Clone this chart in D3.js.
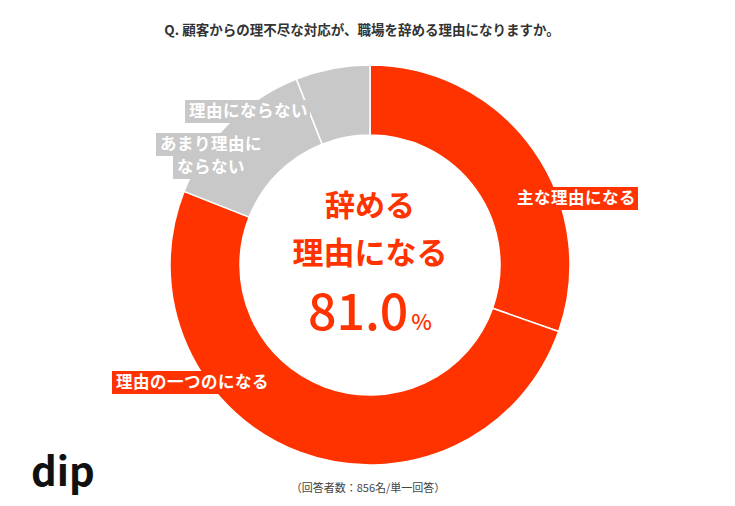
<!DOCTYPE html>
<html>
<head>
<meta charset="utf-8">
<script src="https://cdn.jsdelivr.net/npm/d3@7"></script>
<style>
  body { margin: 0; background: #fff; }
  text { font-family: "Noto Sans CJK JP", "Noto Sans", sans-serif; }
</style>
</head>
<body>
<div id="chart"></div>
<script>
// Données du graphique
const categories = ["主な理由になる", "理由の一つのになる", "あまり理由にならない", "理由にならない"];
const values = [30.4, 50.6, 13.0, 6.0];
const totalLabel = "81.0";
const title = "Q. 顧客からの理不尽な対応が、職場を辞める理由になりますか。";
const note = "（回答者数：856名/単一回答）";

const width = 735, height = 506;
const red = "#ff3300", gray = "#c8c8c8";

const svg = d3.select("#chart").append("svg")
    .attr("width", width)
    .attr("height", height);

// Titre
svg.append("text")
    .attr("x", 362)
    .attr("y", 35)
    .attr("text-anchor", "middle")
    .attr("font-size", "13.5px")
    .attr("font-weight", 700)
    .attr("fill", "#333")
    .text(title);

// Anneau
const cx = 370, cy = 265;
const color = d3.scaleOrdinal().domain(categories).range([red, red, gray, gray]);
const pie = d3.pie().sort(null).value(d => d.value);
const arc = d3.arc().innerRadius(130).outerRadius(200);

const data = categories.map((c, i) => ({ name: c, value: values[i] }));
const ring = svg.append("g").attr("transform", `translate(${cx},${cy})`);
ring.selectAll("path")
    .data(pie(data))
    .join("path")
    .attr("d", arc)
    .attr("fill", d => color(d.data.name))
    .attr("stroke", "#fff")
    .attr("stroke-width", 1.5);

// Étiquettes des segments (lignes, position du coin gauche, ligne de base)
const labels = [
    { name: categories[0], lines: ["主な理由になる"], x: 517, y: 204 },
    { name: categories[1], lines: ["理由の一つのになる"], x: 116, y: 388 },
    { name: categories[2], lines: ["あまり理由に", "ならない"], x: 160, y: 150, align: "middle" },
    { name: categories[3], lines: ["理由にならない"], x: 189, y: 117 }
];

labels.forEach(l => {
    const g = svg.append("g");
    let firstW = 0;
    l.lines.forEach((line, j) => {
        const rect = g.append("rect");
        const t = g.append("text")
            .attr("y", l.y + j * 23)
            .attr("font-size", "16.5px")
            .attr("font-weight", 700)
            .attr("letter-spacing", "0.5px")
            .attr("fill", "#fff")
            .text(line);
        const w = t.node().getComputedTextLength();
        if (j === 0) firstW = w;
        const x = (l.align === "middle" && j > 0) ? l.x + (firstW - w) / 2 : l.x;
        t.attr("x", x);
        rect.attr("x", x - 4)
            .attr("y", l.y + j * 23 - 17)
            .attr("width", w + 6)
            .attr("height", 23)
            .attr("fill", color(l.name));
    });
});

// Texte central
const center = svg.append("g").attr("transform", `translate(${cx},0)`);
center.append("text")
    .attr("y", 216)
    .attr("text-anchor", "middle")
    .attr("font-size", "30px")
    .attr("font-weight", 700)
    .attr("fill", red)
    .text("辞める");
center.append("text")
    .attr("y", 264)
    .attr("text-anchor", "middle")
    .attr("font-size", "31px")
    .attr("font-weight", 700)
    .attr("fill", red)
    .text("理由になる");
const pct = center.append("text")
    .attr("y", 330)
    .attr("text-anchor", "middle")
    .attr("font-family", "Roboto, sans-serif")
    .attr("font-weight", 500)
    .attr("fill", red);
pct.append("tspan").attr("font-size", "50px").text(totalLabel);
pct.append("tspan").attr("font-size", "22px").attr("dx", 3).text("%");

// Note
svg.append("text")
    .attr("x", 368)
    .attr("y", 492)
    .attr("text-anchor", "middle")
    .attr("font-size", "11px")
    .attr("fill", "#444")
    .text(note);

// Logo
svg.append("text")
    .attr("x", 31)
    .attr("y", 486)
    .attr("font-family", "Inter, Lato, sans-serif")
    .attr("font-size", "40px")
    .attr("font-weight", 700)
    .attr("fill", "#111")
    .text("dip");
</script>
</body>
</html>
